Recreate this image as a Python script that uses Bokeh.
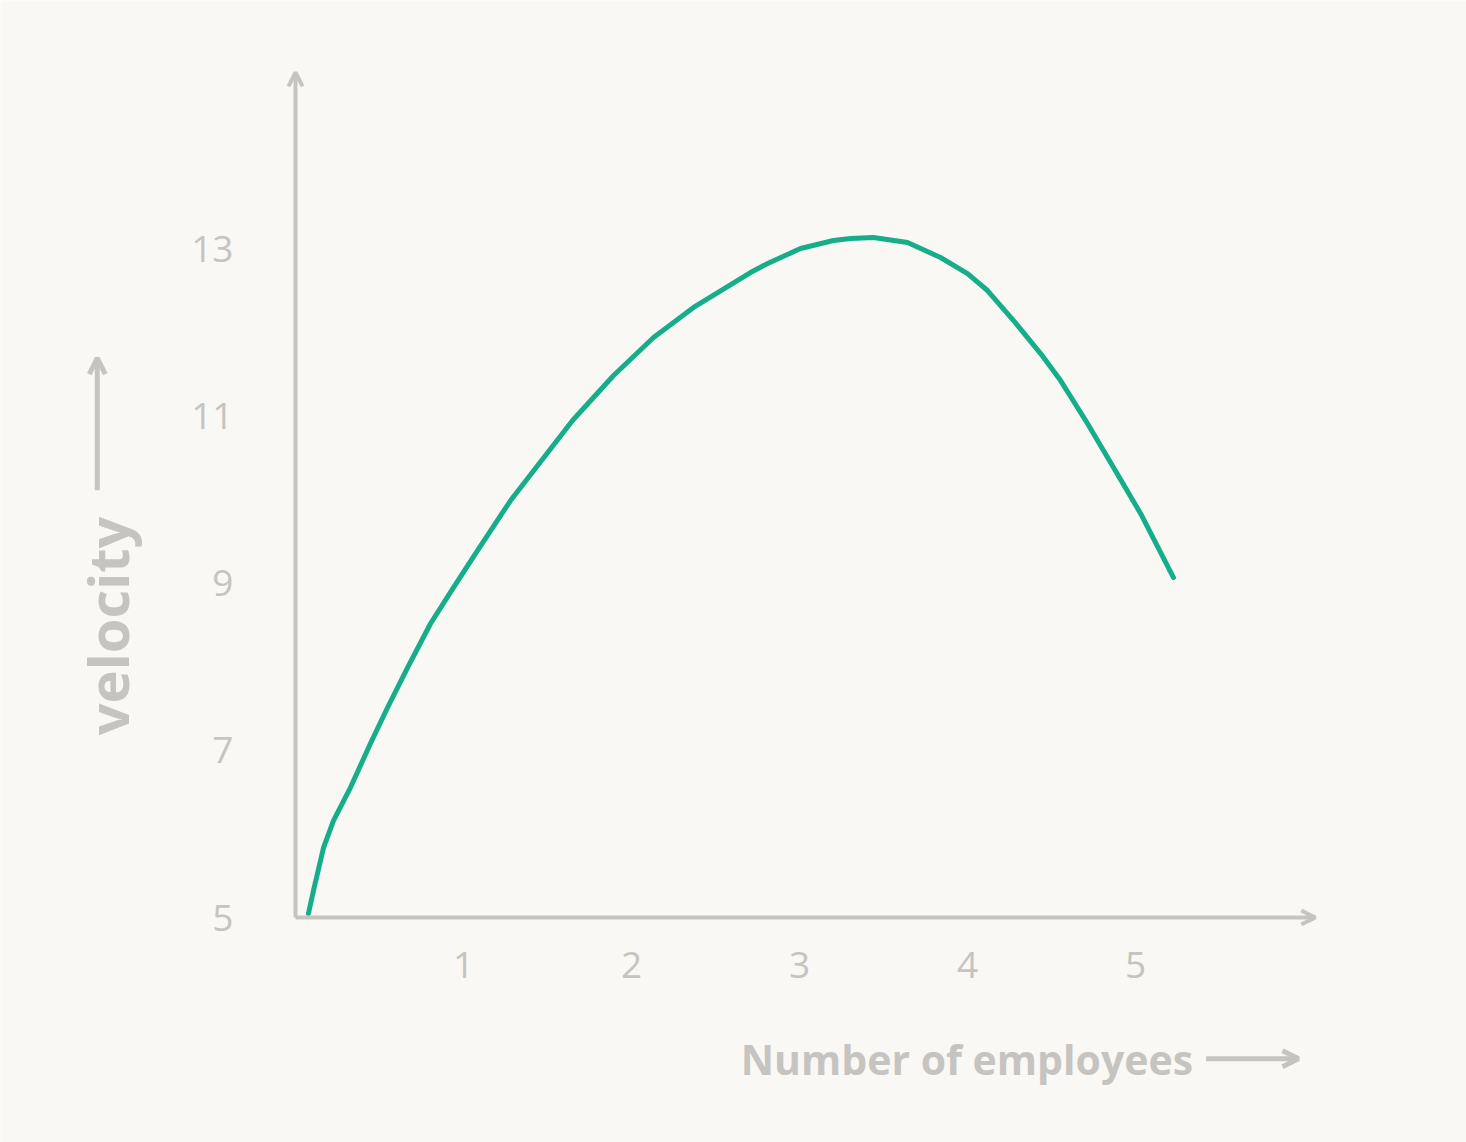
from bokeh.plotting import figure
from bokeh.models import FixedTicker, Arrow, OpenHead, Label, Range1d, LinearAxis
from bokeh.embed import file_html
from bokeh.resources import INLINE
import math

# Data
employees = [0.077, 0.107, 0.167, 0.226, 0.327, 0.446, 0.548, 0.667, 0.804, 0.940,
             1.083, 1.280, 1.649, 1.893, 2.131, 2.369, 2.708, 2.810, 3.006,
             3.202, 3.304, 3.440, 3.643, 3.839, 4.000, 4.119, 4.274, 4.435, 4.554,
             4.714, 4.869, 5.030, 5.226]
velocity = [5.048, 5.323, 5.837, 6.160, 6.555, 7.081, 7.512, 7.990, 8.517, 8.947,
            9.390, 9.988, 10.945, 11.483, 11.938, 12.297, 12.715, 12.823, 13.002,
            13.098, 13.122, 13.134, 13.074, 12.895, 12.703, 12.500, 12.141, 11.746, 11.423,
            10.909, 10.383, 9.833, 9.067]
x_ticks = [1, 2, 3, 4, 5]
y_ticks = [5, 7, 9, 11, 13]

BG = "#faf8f4"
GRAY = "#c6c4c0"
GREEN = "#16ad8a"
FONT = "Open Sans"

X_AXIS_END = 6.07
Y_AXIS_START, Y_AXIS_END = 5.0, 15.11

p = figure(width=1466, height=1142, output_backend="svg", toolbar_location=None,
           x_range=Range1d(-1.756, 6.970), y_range=Range1d(2.309, 15.969),
           x_axis_location=None, y_axis_location=None,
           min_border=0)

p.background_fill_color = BG
p.border_fill_color = BG
p.outline_line_color = None
p.xgrid.visible = False
p.ygrid.visible = False

xaxis = LinearAxis(fixed_location=Y_AXIS_START, ticker=FixedTicker(ticks=x_ticks))
yaxis = LinearAxis(fixed_location=0, ticker=FixedTicker(ticks=y_ticks))
for ax in (xaxis, yaxis):
    ax.axis_line_color = None
    ax.major_tick_line_color = None
    ax.minor_tick_line_color = None
    ax.major_label_text_color = GRAY
    ax.major_label_text_font = FONT
    ax.major_label_text_font_size = "37px"
xaxis.major_label_standoff = 28
yaxis.major_label_standoff = 56
p.add_layout(xaxis, "below")
p.add_layout(yaxis, "left")

# Axis lines with arrow heads
p.add_layout(Arrow(x_start=0, y_start=Y_AXIS_START, x_end=0, y_end=Y_AXIS_END,
                   line_color=GRAY, line_width=4,
                   end=OpenHead(size=14, line_color=GRAY, line_width=4)))
p.add_layout(Arrow(x_start=0, y_start=Y_AXIS_START, x_end=X_AXIS_END, y_end=Y_AXIS_START,
                   line_color=GRAY, line_width=4,
                   end=OpenHead(size=14, line_color=GRAY, line_width=4)))

# Curve
p.line(employees, velocity, line_color=GREEN, line_width=5, line_cap="round", line_join="round")

# Axis titles
p.add_layout(Label(x=2.65, y=3.31, text="Number of employees", text_color=GRAY,
                   text_font=FONT, text_font_size="41px", text_font_style="bold",
                   text_align="left", text_baseline="middle"))
p.add_layout(Arrow(x_start=5.42, y_start=3.31, x_end=5.97, y_end=3.31,
                   line_color=GRAY, line_width=5,
                   end=OpenHead(size=16, line_color=GRAY, line_width=5)))

p.add_layout(Label(x=-1.12, y=7.18, text="velocity", angle=math.pi / 2, text_color=GRAY,
                   text_font=FONT, text_font_size="56px", text_font_style="bold",
                   text_align="left", text_baseline="middle"))
p.add_layout(Arrow(x_start=-1.18, y_start=10.11, x_end=-1.18, y_end=11.69,
                   line_color=GRAY, line_width=5,
                   end=OpenHead(size=16, line_color=GRAY, line_width=5)))

open("out.html", "w").write(file_html(p, INLINE))
